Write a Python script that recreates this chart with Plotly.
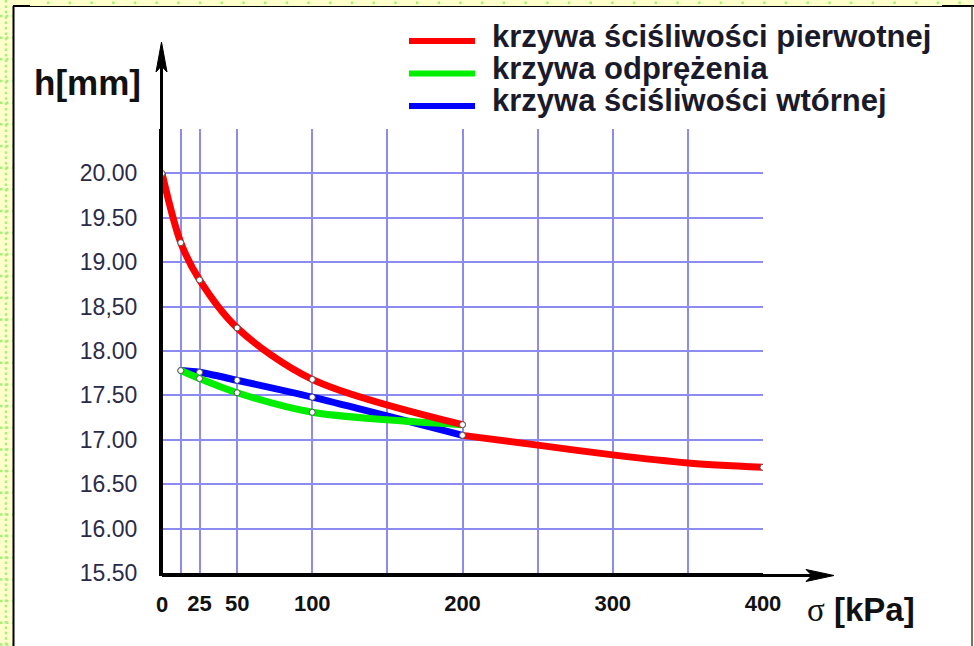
import plotly.graph_objects as go

# ---- data -------------------------------------------------------------
series_names = [
    "krzywa ściśliwości pierwotnej",
    "krzywa odprężenia",
    "krzywa ściśliwości wtórnej",
]

# primary compression (loading 0 -> 200 kPa)
primary_sigma = [0, 12.5, 25, 50, 100, 200]
primary_h = [20.00, 19.22, 18.80, 18.26, 17.68, 17.17]

# unloading (200 -> 12.5 kPa)
unload_sigma = [12.5, 25, 50, 100, 200]
unload_h = [17.78, 17.69, 17.53, 17.31, 17.17]

# reloading (12.5 -> 200 kPa)
reload_sigma = [12.5, 25, 50, 100, 200]
reload_h = [17.78, 17.76, 17.67, 17.48, 17.05]

# primary compression continued (200 -> 400 kPa)
cont_sigma = [200, 250, 300, 350, 400]
cont_h = [17.05, 16.94, 16.83, 16.74, 16.69]
cont_marked = [True, False, False, False, True]

x_grid = [12.5, 25, 50, 100, 150, 200, 250, 300, 350, 400]
x_labels = ["", "25", "50", "100", "", "200", "", "300", "", "400"]
y_grid = [15.5, 16.0, 16.5, 17.0, 17.5, 18.0, 18.5, 19.0, 19.5, 20.0, 20.5]
y_labels = ["15.50", "16.00", "16.50", "17.00", "17.50", "18.00", "18,50",
            "19.00", "19.50", "20.00", ""]

colors = ["#ff0000", "#00ee00", "#0000ff"]

# ---- page geometry (pixels) ------------------------------------------
W, H = 974, 646
L, R, T, B = 162, 763, 129, 573


def px(x):
    return (x - L) / (R - L)


def py(y):
    return (B - y) / (B - T)


fig = go.Figure()

marker_style = dict(size=6, color="white", line=dict(color="#555555", width=1))
LW = 7

# reloading curve (drawn first, under the others)
fig.add_trace(go.Scatter(
    x=reload_sigma, y=reload_h, mode="lines+markers",
    line=dict(color=colors[2], width=LW, shape="spline", smoothing=0.8),
    marker=marker_style, name=series_names[2], showlegend=False,
))
# unloading curve
fig.add_trace(go.Scatter(
    x=unload_sigma, y=unload_h, mode="lines+markers",
    line=dict(color=colors[1], width=LW, shape="spline", smoothing=0.8),
    marker=marker_style, name=series_names[1], showlegend=False,
))
# primary compression curve
fig.add_trace(go.Scatter(
    x=primary_sigma, y=primary_h, mode="lines+markers",
    line=dict(color=colors[0], width=LW, shape="spline", smoothing=0.9),
    marker=marker_style, name=series_names[0], showlegend=False,
))
# primary compression continued beyond 200 kPa
fig.add_trace(go.Scatter(
    x=cont_sigma, y=cont_h, mode="lines",
    line=dict(color=colors[0], width=LW, shape="spline", smoothing=0.8),
    name=series_names[0], showlegend=False,
))
fig.add_trace(go.Scatter(
    x=[s for s, m in zip(cont_sigma, cont_marked) if m],
    y=[h for h, m in zip(cont_h, cont_marked) if m],
    mode="markers", marker=marker_style, showlegend=False,
))

grid_color = "#8c8cf0"
xtick_font = dict(family="Liberation Sans", size=22, color="#111111",
                  weight="bold")

fig.update_xaxes(
    range=[0, 400], tickvals=x_grid, ticktext=x_labels,
    showgrid=True, gridcolor=grid_color, gridwidth=2,
    zeroline=False, showline=True, linecolor="black", linewidth=3,
    ticks="", ticklabelstandoff=9, tickfont=xtick_font,
)
fig.update_yaxes(
    range=[15.5, 20.5], tickvals=y_grid, ticktext=y_labels,
    showgrid=True, gridcolor=grid_color, gridwidth=2,
    zeroline=False, showline=True, linecolor="black", linewidth=3,
    ticks="", ticklabelstandoff=17,
    tickfont=dict(family="Liberation Sans", size=23, color="#2b2b48"),
)

shapes = []
# frame: light yellow page with dotted green pattern, white sheet
shapes.append(dict(type="rect", xref="paper", yref="paper",
                   x0=px(13), x1=px(972), y0=py(7), y1=py(660),
                   fillcolor="white", line=dict(width=0), layer="below"))
dot_green = "#a6f07a"
shapes.append(dict(type="line", xref="paper", yref="paper",
                   x0=px(6), x1=px(6), y0=py(0), y1=py(646),
                   line=dict(color=dot_green, width=2.5, dash="2.5px,2.9px"),
                   layer="below"))
for k in range(30):
    yy = 16 + k * 21.67
    shapes.append(dict(type="line", xref="paper", yref="paper",
                       x0=px(0), x1=px(13), y0=py(yy), y1=py(yy),
                       line=dict(color=dot_green, width=2.5, dash="2.5px,3.5px"),
                       layer="below"))
shapes.append(dict(type="line", xref="paper", yref="paper",
                   x0=px(47), x1=px(974), y0=py(2.7), y1=py(2.7),
                   line=dict(color=dot_green, width=2.5, dash="2.5px,19.2px"),
                   layer="below"))
# sheet borders
shapes.append(dict(type="line", xref="paper", yref="paper",
                   x0=px(13.5), x1=px(13.5), y0=py(6), y1=py(660),
                   line=dict(color="black", width=2)))
shapes.append(dict(type="line", xref="paper", yref="paper",
                   x0=px(13), x1=px(972), y0=py(6.5), y1=py(6.5),
                   line=dict(color="black", width=1)))
shapes.append(dict(type="line", xref="paper", yref="paper",
                   x0=px(13), x1=px(30), y0=py(6), y1=py(6),
                   line=dict(color="black", width=2)))
shapes.append(dict(type="line", xref="paper", yref="paper",
                   x0=px(942), x1=px(974), y0=py(6), y1=py(6),
                   line=dict(color="black", width=2)))
shapes.append(dict(type="line", xref="paper", yref="paper",
                   x0=px(972), x1=px(972), y0=py(6), y1=py(660),
                   line=dict(color="#444444", width=1.5)))

# axis arrows (extensions of the axis lines)
shapes.append(dict(type="line", xref="paper", yref="paper",
                   x0=px(161.5), x1=px(161.5), y0=py(B), y1=py(60),
                   line=dict(color="black", width=3)))
shapes.append(dict(type="path", xref="paper", yref="paper",
                   path=f"M {px(161.5)},{py(42)} L {px(167)},{py(72)} "
                        f"L {px(161.5)},{py(66)} L {px(156)},{py(72)} Z",
                   fillcolor="black", line=dict(color="black", width=1)))
shapes.append(dict(type="line", xref="paper", yref="paper",
                   x0=px(L), x1=px(815), y0=py(575.5), y1=py(575.5),
                   line=dict(color="black", width=3)))
shapes.append(dict(type="path", xref="paper", yref="paper",
                   path=f"M {px(834)},{py(575.5)} L {px(806)},{py(569.5)} "
                        f"L {px(812)},{py(575.5)} L {px(806)},{py(581.5)} Z",
                   fillcolor="black", line=dict(color="black", width=1)))

# legend: coloured line samples
legend_rows = [36, 68.5, 101]
for name, col, yy in zip(series_names, colors, legend_rows):
    shapes.append(dict(type="line", xref="paper", yref="paper",
                       x0=px(409), x1=px(475), y0=py(yy + 5), y1=py(yy + 5),
                       line=dict(color=col, width=6)))

annotations = []
for name, yy in zip(series_names, legend_rows):
    annotations.append(dict(
        text=name, xref="paper", yref="paper", x=px(490), y=py(yy),
        xanchor="left", yanchor="middle", showarrow=False,
        font=dict(family="Liberation Sans", size=31, color="#1a1a2a",
                  weight="bold"),
    ))

# axis titles
annotations.append(dict(
    text="h[mm]", xref="paper", yref="paper", x=px(32), y=py(83),
    xanchor="left", yanchor="middle", showarrow=False,
    font=dict(family="Liberation Sans", size=35, color="#111111",
              weight="bold"),
))
annotations.append(dict(
    text="<span style='font-family:Liberation Serif;font-weight:normal'>σ</span>"
         " <b>[kPa]</b>",
    xref="paper", yref="paper", x=px(805), y=py(609),
    xanchor="left", yanchor="middle", showarrow=False,
    font=dict(family="Liberation Sans", size=33, color="#111111"),
))
# origin label on the x axis
annotations.append(dict(
    text="0", xref="x", yref="paper", x=0, y=py(604),
    xanchor="center", yanchor="middle", showarrow=False,
    font=xtick_font,
))

fig.update_layout(
    width=W, height=H,
    margin=dict(l=L, r=W - R, t=T, b=H - B),
    paper_bgcolor="#ffffcc", plot_bgcolor="white",
    shapes=shapes, annotations=annotations,
    showlegend=False,
)

fig.write_html("out.html")
